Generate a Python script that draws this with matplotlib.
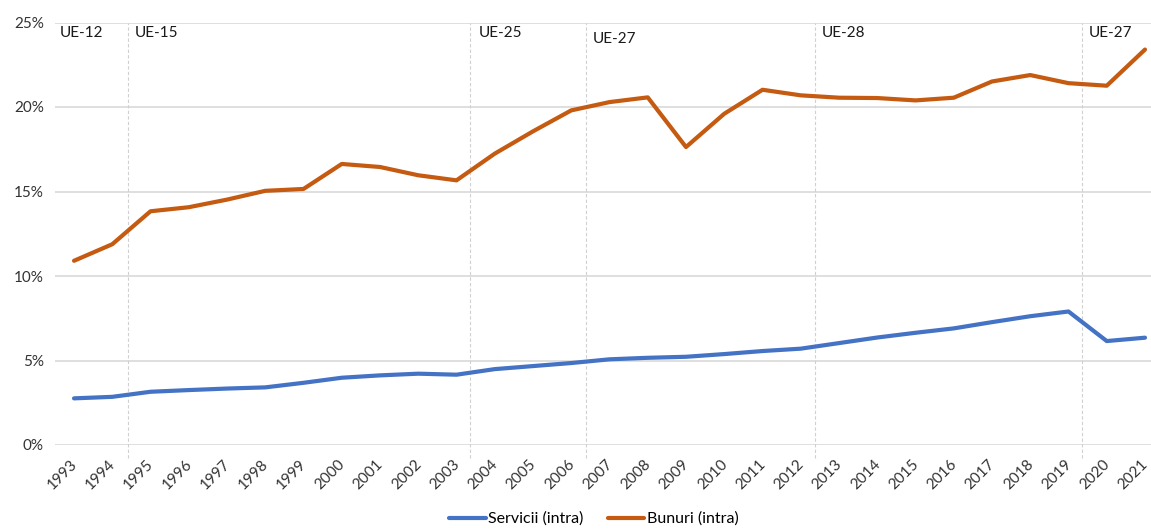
import numpy as np
import matplotlib
matplotlib.use("Agg")
import matplotlib.pyplot as plt
import matplotlib.transforms as mtransforms
from matplotlib.ticker import FuncFormatter

plt.rcParams['font.family'] = ['Lato', 'DejaVu Sans']

# data (shares in %)
years = list(range(1993, 2022))
servicii = [2.76, 2.85, 3.15, 3.25, 3.34, 3.41, 3.68, 3.98, 4.12, 4.22, 4.16,
            4.49, 4.67, 4.85, 5.07, 5.16, 5.22, 5.38, 5.56, 5.70, 6.03, 6.36,
            6.64, 6.90, 7.27, 7.62, 7.90, 6.15, 6.35]
bunuri = [10.9, 11.88, 13.83, 14.07, 14.52, 15.04, 15.15, 16.63, 16.45, 15.96,
          15.66, 17.24, 18.56, 19.80, 20.29, 20.57, 17.63, 19.60, 21.02, 20.69,
          20.55, 20.53, 20.39, 20.55, 21.51, 21.89, 21.41, 21.26, 23.40]

# enlargement markers
era_names = ['UE-12', 'UE-15', 'UE-25', 'UE-27', 'UE-28', 'UE-27']
era_lines = [None, 1994.42, 2003.36, 2006.39, 2012.36, 2019.34]
era_text_x = [1992.63, 1994.6, 2003.59, 2006.57, 2012.56, 2019.54]
era_text_y = [24.35, 24.35, 24.35, 24.0, 24.35, 24.35]

fig = plt.figure(figsize=(11.51, 5.29), dpi=100)
ax = fig.add_axes([55/1151, 1 - 445/529, 1 - 55/1151, (445 - 22.5)/529])

grid_c = '#d9d9d9'
for v in range(0, 26, 5):
    ax.axhline(v, color=grid_c, lw=1.2, zorder=0)

for xl in era_lines:
    if xl is not None:
        ax.axvline(xl, ymin=-0.031, ymax=1.0, color='#d0d0d0', lw=0.8,
                   ls=(0, (3, 2)), clip_on=False, zorder=0)

for name, tx, ty in zip(era_names, era_text_x, era_text_y):
    ax.text(tx, ty, name, fontsize=11, color='#1a1a1a', va='center', ha='left')

ax.plot(years, servicii, color='#4472C4', lw=3, solid_capstyle='round',
        label='Servicii (intra)')
ax.plot(years, bunuri, color='#C55A11', lw=3, solid_capstyle='round',
        label='Bunuri (intra)')

ax.set_xlim(1992.503, 2021.157)
ax.set_ylim(0, 25)
ax.set_yticks(range(0, 26, 5))
ax.yaxis.set_major_formatter(FuncFormatter(lambda v, p: f'{int(v)}%'))
ax.set_xticks(years)
ax.set_xticklabels([str(y) for y in years], rotation=45, ha='right',
                   rotation_mode='anchor')
ax.tick_params(axis='both', length=0, labelsize=11, colors='#333333')
ax.tick_params(axis='x', pad=9)
ax.tick_params(axis='y', pad=8)
shift = mtransforms.ScaledTranslation(-4/100, 0, fig.dpi_scale_trans)
for lbl in ax.get_xticklabels():
    lbl.set_transform(lbl.get_transform() + shift)
for s in ax.spines.values():
    s.set_visible(False)

fig.legend(loc='center', bbox_to_anchor=(0.516, 1 - 519/529), ncol=2,
           frameon=False, fontsize=11.5, handlelength=2.3, handletextpad=0.15,
           columnspacing=1.5)

fig.savefig('out.png', dpi=100)
